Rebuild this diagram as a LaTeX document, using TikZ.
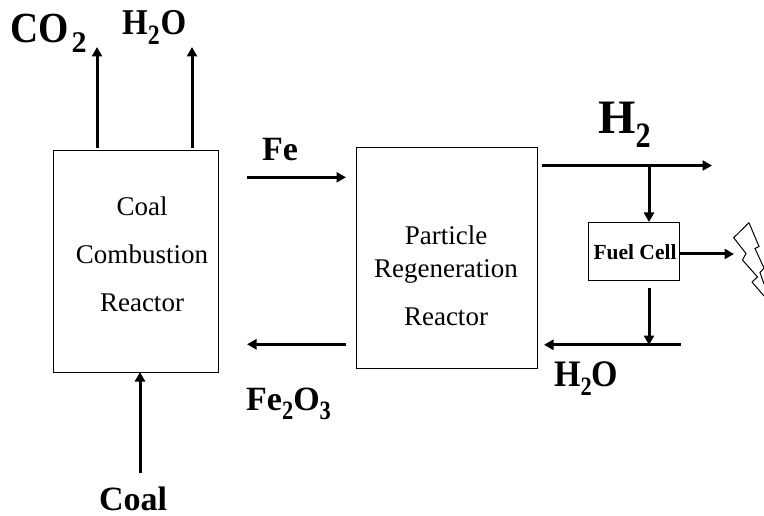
\documentclass[tikz,border=0pt]{standalone}
\usepackage{fontspec}
\usepackage{graphicx}
\setmainfont{Liberation Serif}
\usetikzlibrary{arrows.meta}
\newcommand{\fsz}[1]{\fontsize{#1}{#1}\selectfont}
\newcommand{\subd}[2][0.66em]{\raisebox{-0.28em}{\scalebox{1}[1.18]{\fontsize{#1}{#1}\selectfont #2}}}
\newcommand{\tallt}[1]{\scalebox{1}[1.1]{#1}}
\tikzset{
  reactor/.style={draw=black,line width=1pt,fill=white,inner sep=0pt},
  flow/.style={line width=3pt,-{Triangle[length=9.5pt,width=10pt]}},
  boxtext/.style={font=\fsz{27},inner sep=0pt,anchor=base},
  lab/.style={inner sep=0pt,anchor=base west},
}
\begin{document}
\begin{tikzpicture}[x=1pt,y=-1pt]
\useasboundingbox (0,0) rectangle (764,516);
% boxes
\node[reactor,minimum width=165pt,minimum height=221pt] (comb) at (136,261.5) {};
\node[reactor,minimum width=181pt,minimum height=220pt] (regen) at (447,258) {};
\node[reactor,minimum width=91pt,minimum height=58pt] (fc) at (634,251.5) {};
% box text
\node[boxtext] (t1) at (142,216) {Coal};
\node[boxtext] (t2) at (142,264) {Combustion};
\node[boxtext] (t3) at (142,312) {Reactor};
\node[boxtext] (t4) at (446,244) {Particle};
\node[boxtext] (t5) at (446,277) {Regeneration};
\node[boxtext] (t6) at (446,325) {Reactor};
\node[font=\fsz{21.5}\bfseries,inner sep=0pt] (t7) at (635,252) {Fuel Cell};
% labels
\node[lab,font=\fsz{39}\bfseries] (co2) at (10,43) {\tallt{CO}\kern3pt\raisebox{-10pt}{\fontsize{30}{30}\selectfont 2}};
\node[lab,font=\fsz{33}\bfseries] (h2oa) at (122,35) {\tallt{H}\subd[0.72em]{2}\kern1pt\tallt{O}};
\node[lab,font=\fsz{48}\bfseries] (h2) at (598,134) {H\subd[0.63em]{2}};
\node[lab,font=\fsz{34}\bfseries] (fe) at (262,161) {Fe};
\node[lab,font=\fsz{34}\bfseries] (fe2o3) at (246,410) {Fe\subd{2}O\subd{3}};
\node[lab,font=\fsz{34}\bfseries] (h2ob) at (554,386) {\tallt{H}\subd{2}\tallt{O}};
\node[lab,font=\fsz{34}\bfseries] (coal) at (99,510) {Coal};
% free ends
\coordinate (co2top) at (97,47);
\coordinate (h2otop) at (192,47);
\coordinate (co2bot) at (97,148);
\coordinate (h2obot) at (192,148);
\coordinate (feS) at (247,177.3);
\coordinate (feE) at (346,177.3);
\coordinate (oxS) at (346,344.3);
\coordinate (oxE) at (247,344.3);
\coordinate (h2S) at (542,165.5);
\coordinate (h2E) at (712,165.5);
\coordinate (tap) at (649,165.5);
\coordinate (elec) at (734,254);
\coordinate (fcout) at (649,288);
\coordinate (wtap) at (649,345);
\coordinate (wS) at (681,344.8);
\coordinate (wE) at (544,344.8);
\coordinate (coalS) at (140,473);
\coordinate (coalE) at (140,372);
% connectors
\draw[flow] (co2bot) -- (co2top);
\draw[flow] (h2obot) -- (h2otop);
\draw[flow] (feS) -- (feE);
\draw[flow] (oxS) -- (oxE);
\draw[flow] (h2S) -- (h2E);
\draw[flow] (tap) -- (fc.north -| tap);
\draw[flow] (fc.east |- elec) -- (elec);
\draw[flow] (fcout) -- (wtap);
\draw[flow] (wS) -- (wE);
\draw[flow] (coalS) -- (coalE);
% lightning bolt
\draw[line width=1pt,line join=miter]
  (749,222.7) -- (733.7,237.7) -- (746,253.5) -- (742.5,260) -- (757.5,277) -- (752,282) -- (764,296);
\draw[line width=1pt] (749,222.7) -- (759,246.5) -- (755,248.5) -- (764,268) -- (760,272.5) -- (764,284);
\end{tikzpicture}
\end{document}
